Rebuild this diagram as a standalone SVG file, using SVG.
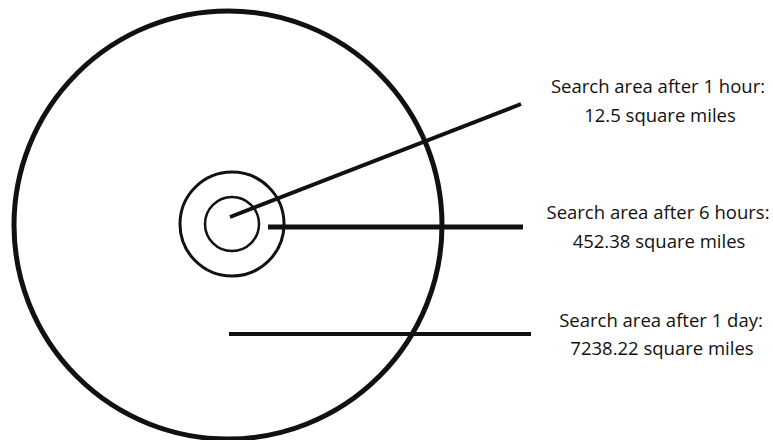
<svg xmlns="http://www.w3.org/2000/svg" width="773" height="440" viewBox="0 0 773 440">
<style>
.c{fill:none;stroke:#111}
.l{stroke:#111;stroke-linecap:butt}
text{font-family:"Open Sans","Liberation Sans",sans-serif;font-size:18.5px;fill:#111;text-anchor:middle}
</style>
<rect width="773" height="440" fill="#fff"/>
<g id="circle-day"><circle class="c" cx="228" cy="225" r="214" stroke-width="5"/></g>
<g id="circle-6h"><circle class="c" cx="232" cy="224" r="52" stroke-width="3"/></g>
<g id="circle-1h"><circle class="c" cx="232" cy="224" r="27" stroke-width="2.5"/></g>
<g id="connectors">
<line class="l" x1="230" y1="217" x2="521" y2="104" stroke-width="4"/>
<line class="l" x1="268" y1="227" x2="523" y2="227" stroke-width="5"/>
<line class="l" x1="229" y1="334" x2="531" y2="334" stroke-width="4"/>
</g>
<g id="label-1h"><text x="658" y="93">Search area after 1 hour:</text><text x="660" y="122">12.5 square miles</text></g>
<g id="label-6h"><text x="658" y="219">Search area after 6 hours:</text><text x="659" y="248">452.38 square miles</text></g>
<g id="label-day"><text x="661" y="327">Search area after 1 day:</text><text x="662" y="355">7238.22 square miles</text></g>
</svg>
